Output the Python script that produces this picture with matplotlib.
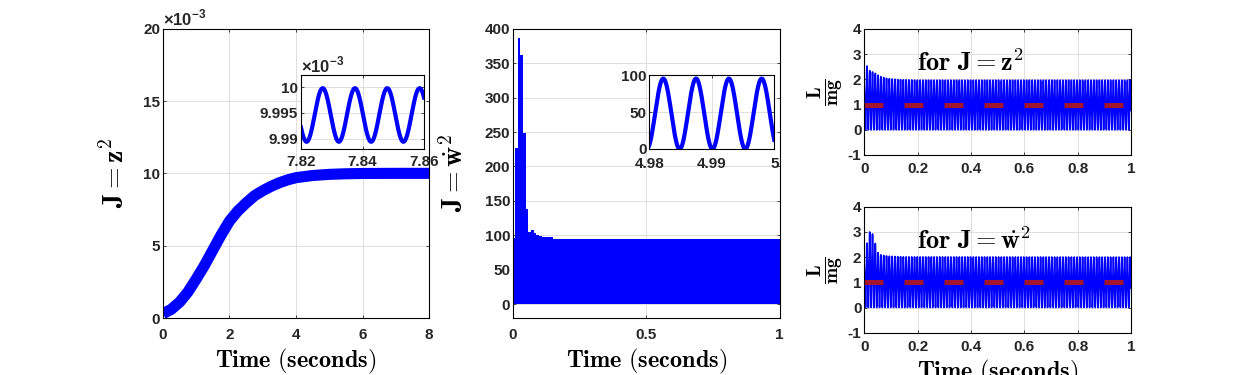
import numpy as np
import matplotlib
matplotlib.use('Agg')
import matplotlib.pyplot as plt

plt.rcParams['font.family'] = ['Liberation Sans', 'DejaVu Sans']
plt.rcParams['font.weight'] = 'bold'
plt.rcParams['mathtext.fontset'] = 'custom'
plt.rcParams['mathtext.rm'] = 'Liberation Sans:bold'
plt.rcParams['mathtext.bf'] = 'Liberation Sans:bold'
plt.rcParams['axes.unicode_minus'] = False

# --- values ---
# left panel: J = z^2 (units of 1e-3), thick curve
z2_t = [0, 0.25, 0.5, 0.75, 1, 1.25, 1.5, 1.75, 2, 2.25, 2.5, 2.75, 3, 3.25, 3.5, 3.75,
        4, 4.5, 5, 5.5, 6, 7, 8]
z2_v = [0.3, 0.6, 1.1, 1.8, 2.7, 3.65, 4.7, 5.75, 6.7, 7.4, 7.95, 8.45, 8.8, 9.1, 9.35, 9.55,
        9.7, 9.85, 9.93, 9.97, 9.99, 10.0, 10.0]

# zoom of J = z^2 near t = 7.84 (units of 1e-3)
z2_zoom_mean = 9.9946
z2_zoom_amp = 0.0052
z2_zoom_period = 0.0105
z2_zoom_peak = 7.82706

# middle panel: peak envelope of J = wdot^2 (oscillates 0 .. envelope)
wd2_env_t = [0.0, 0.0075, 0.0175, 0.0275, 0.0375, 0.0475, 0.0575, 0.0675, 0.0775,
             0.0875, 0.0975, 0.11, 0.15, 1.0]
wd2_env_v = [96, 227, 386, 362, 248, 138, 105, 108, 103, 100, 98.5, 97, 95, 95]

# zoom of J = wdot^2 near t = 4.99
wd2_zoom_peak_val = 95.5
wd2_zoom_period = 0.00525
wd2_zoom_peak = 4.98224

# right panels: L/mg peak envelopes, oscillation 0 .. envelope
lz_env_t = [0, 0.005, 0.01, 0.02, 0.03, 0.04, 0.05, 0.06, 0.07, 0.08, 0.1, 0.13, 0.2, 1.0]
lz_env_v = [1.75, 2.3, 2.53, 2.35, 2.3, 2.25, 2.18, 2.12, 2.08, 2.05, 2.02, 1.99, 1.97, 1.97]
lw_env_t = [0, 0.01, 0.02, 0.03, 0.04, 0.05, 0.06, 0.07, 0.08, 0.1, 0.15, 1.0]
lw_env_v = [1.7, 2.55, 3.0, 2.95, 2.6, 2.2, 2.1, 2.07, 2.05, 2.03, 2.01, 2.0]
l_period = 0.0105
l_peak = 0.01
l_ref = 1.0

grid_c = '#dedede'
tick_c = '#262626'
red = '#a2142f'
cm = dict(math_fontfamily='cm')
tfs = 11
xl_fs = 17.5


def style(ax, xpad=2, fs=tfs):
    ax.grid(True, color=grid_c, linewidth=0.7)
    ax.set_axisbelow(True)
    ax.tick_params(direction='in', top=True, right=True, length=2.5, width=0.6,
                   labelsize=fs, colors=tick_c, pad=2)
    ax.tick_params(axis='x', pad=xpad)
    for s in ax.spines.values():
        s.set_linewidth(0.8)
        s.set_color('black')


fig = plt.figure(figsize=(12.5, 3.75), dpi=100)

# ---- left ----
ax1 = fig.add_axes([0.1304, 0.152, 0.2128, 0.7715])
ax1.plot(z2_t, z2_v, color='blue', linewidth=8, solid_capstyle='butt', solid_joinstyle='round')
ax1.set_xlim(0, 8)
ax1.set_ylim(0, 20)
ax1.set_xticks([0, 2, 4, 6, 8])
ax1.set_yticks([0, 5, 10, 15, 20])
style(ax1, xpad=7)
ax1.text(0.0, 1.0, r'$\times$10$^{-3}$', transform=ax1.transAxes, fontsize=12,
         color=tick_c, va='bottom', ha='left')
ax1.set_xlabel(r'$\mathbf{Time\ (seconds)}$', fontsize=xl_fs, **cm)
ax1.xaxis.set_label_coords(0.5, -0.1)
ax1.xaxis.label.set_va('top')
ax1.set_ylabel(r'$\mathbf{J = z^2}$', fontsize=20, **cm)
ax1.yaxis.set_label_coords(-0.18, 0.5)
ax1.yaxis.label.set_va('center')

ax1i = fig.add_axes([0.2408, 0.6027, 0.0984, 0.1965])
ti = np.linspace(7.82, 7.86, 800)
ax1i.plot(ti, z2_zoom_mean + z2_zoom_amp * np.cos(2 * np.pi * (ti - z2_zoom_peak) / z2_zoom_period),
          color='blue', linewidth=3)
ax1i.set_xlim(7.82, 7.86)
ax1i.set_ylim(9.988, 10.0023)
ax1i.set_xticks([7.82, 7.84, 7.86])
ax1i.set_xticklabels(['7.82', '7.84', '7.86'])
ax1i.set_yticks([9.99, 9.995, 10])
ax1i.set_yticklabels(['9.99', '9.995', '10'])
style(ax1i, xpad=4)
ax1i.text(0.0, 1.0, r'$\times$10$^{-3}$', transform=ax1i.transAxes, fontsize=12,
          color=tick_c, va='bottom', ha='left')

# ---- middle ----
ax2 = fig.add_axes([0.4104, 0.152, 0.2134, 0.7715])
ax2.fill_between(wd2_env_t, 0, wd2_env_v, step='post', color='blue', linewidth=0)
ax2.set_xlim(0, 1)
ax2.set_ylim(-20, 400)
ax2.set_xticks([0, 0.5, 1])
ax2.set_xticklabels(['0', '0.5', '1'])
ax2.set_yticks(np.arange(0, 401, 50))
style(ax2, xpad=7)
ax2.set_xlabel(r'$\mathbf{Time\ (seconds)}$', fontsize=xl_fs, **cm)
ax2.xaxis.set_label_coords(0.5, -0.1)
ax2.xaxis.label.set_va('top')
ax2.set_ylabel(r'$\mathbf{J} = \dot{\mathbf{w}}^{\mathbf{2}}$', fontsize=20, **cm)
ax2.yaxis.set_label_coords(-0.217, 0.5)
ax2.yaxis.label.set_va('center')

ax2i = fig.add_axes([0.5194, 0.6027, 0.1, 0.1965])
ti2 = np.linspace(4.98, 5.0, 800)
ax2i.plot(ti2, wd2_zoom_peak_val / 2 * (1 + np.cos(2 * np.pi * (ti2 - wd2_zoom_peak) / wd2_zoom_period)),
          color='blue', linewidth=3)
ax2i.set_xlim(4.98, 5.0)
ax2i.set_ylim(0, 100)
ax2i.set_xticks([4.98, 4.99, 5.0])
ax2i.set_xticklabels(['4.98', '4.99', '5'])
ax2i.set_yticks([0, 50, 100])
style(ax2i, xpad=5.5)

# ---- right ----
tl = np.linspace(0, 1, 20001)
panels = [
    ([0.6914, 0.5867, 0.2134, 0.336], lz_env_t, lz_env_v, r'$\mathbf{for\ J = z^2}$', False),
    ([0.6914, 0.1128, 0.2134, 0.336], lw_env_t, lw_env_v,
     r'$\mathbf{for\ J} = \dot{\mathbf{w}}^{\mathbf{2}}$', True),
]
for pos, et, ev, txt, bottom in panels:
    ax = fig.add_axes(pos)
    env = np.interp(tl, et, ev)
    sig = env / 2 * (1 + np.cos(2 * np.pi * (tl - l_peak) / l_period))
    ax.plot(tl, sig, color='blue', linewidth=1.2)
    ax.plot([0, 1], [l_ref, l_ref], color=red, linewidth=3.6, dashes=(3.8, 4.2))
    ax.set_xlim(0, 1)
    ax.set_ylim(-1, 4)
    ax.set_xticks([0, 0.2, 0.4, 0.6, 0.8, 1])
    ax.set_xticklabels(['0', '0.2', '0.4', '0.6', '0.8', '1'])
    ax.set_yticks([-1, 0, 1, 2, 3, 4])
    style(ax, xpad=5)
    ax.text(0.196, 2.67, txt, fontsize=19, va='center', ha='left', **cm)
    ax.set_ylabel(r'$\frac{\mathbf{L}}{\mathbf{mg}}$', fontsize=20, **cm)
    ax.yaxis.set_label_coords(-0.147, 0.5)
    ax.yaxis.label.set_va('center')
    if bottom:
        ax.set_xlabel(r'$\mathbf{Time\ (seconds)}$', fontsize=xl_fs, **cm)
        ax.xaxis.set_label_coords(0.5, -0.2)
        ax.xaxis.label.set_va('top')

fig.savefig('out.png', dpi=100)
